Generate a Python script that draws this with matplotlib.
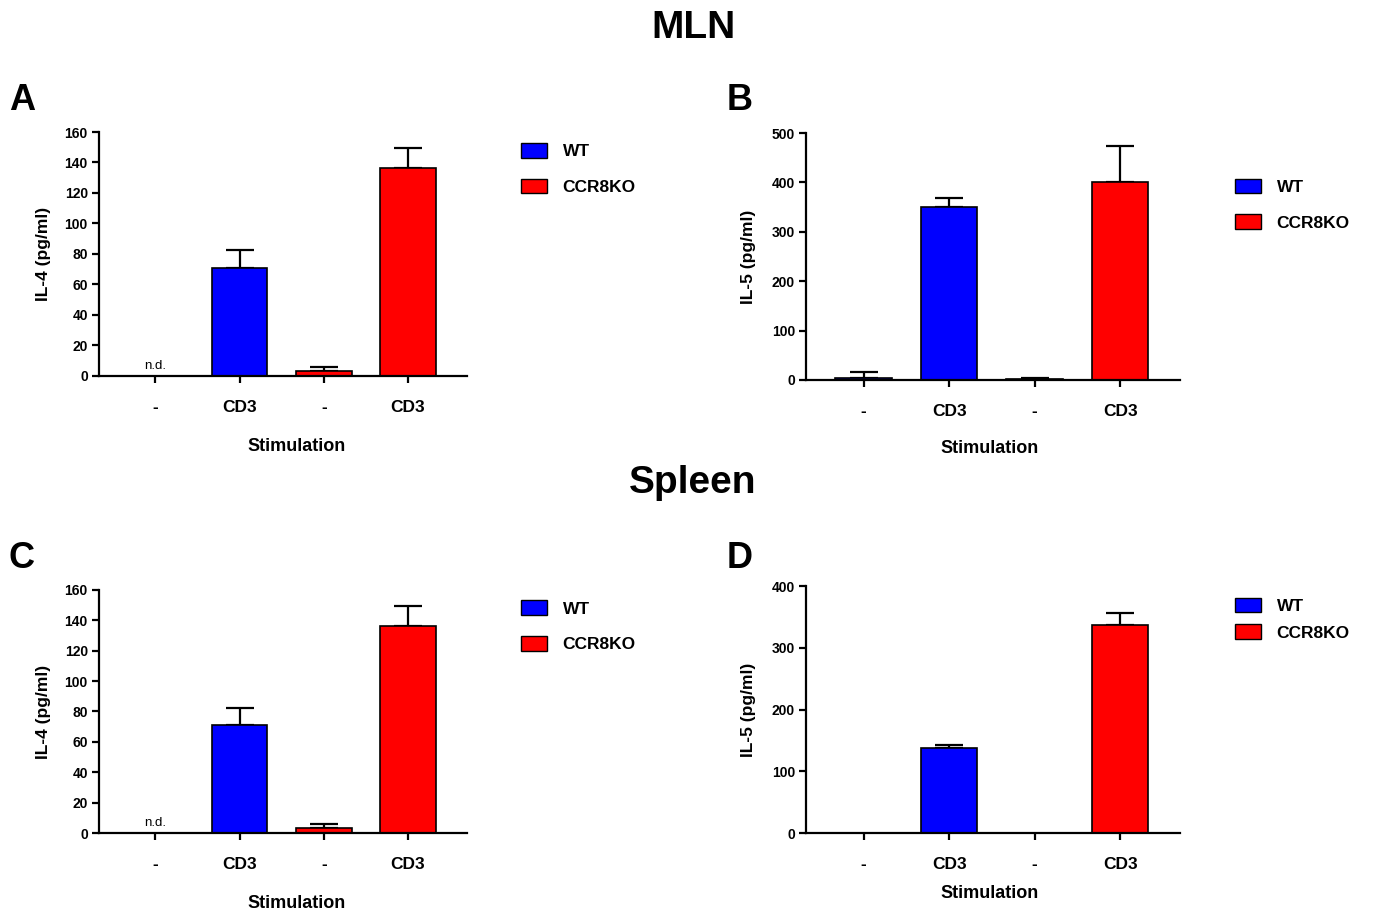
import matplotlib.pyplot as plt
import numpy as np
from matplotlib.patches import Patch

plt.rcParams['font.family'] = ['Liberation Sans', 'DejaVu Sans']
plt.rcParams['font.weight'] = 'bold'
plt.rcParams['axes.labelweight'] = 'bold'

# data ------------------------------------------------------------
groups = ['-', 'CD3', '-', 'CD3']
genotype = ['WT', 'WT', 'CCR8KO', 'CCR8KO']
colors = {'WT': '#0000ff', 'CCR8KO': '#ff0000'}

# MLN
mln_il4 = [np.nan, 70.8, 3.0, 136.3]
mln_il4_err = [np.nan, 11.7, 2.7, 13.1]
mln_il4_nd = [True, False, False, False]

mln_il5 = [4.7, 350, 2, 400]
mln_il5_err = [10.8, 19, 2, 74]
mln_il5_nd = [False, False, False, False]

# Spleen
spl_il4 = [np.nan, 70.8, 3.0, 136.3]
spl_il4_err = [np.nan, 11.7, 2.7, 13.1]
spl_il4_nd = [True, False, False, False]

spl_il5 = [np.nan, 137.8, np.nan, 336.7]
spl_il5_err = [np.nan, 5.5, np.nan, 19.5]
spl_il5_nd = [False, False, False, False]


def panel(rect, vals, errs, nd, ylabel, ymax, ystep, xlab_xy, ylab_x, leg_xy, leg_sp):
    ax = fig.add_axes(rect)
    x = np.arange(len(groups))
    cols = [colors[g] for g in genotype]
    ax.bar(x, vals, width=0.66, color=cols, edgecolor='black', linewidth=1.2, zorder=2)
    lo = np.zeros(len(errs))
    ax.errorbar(x, vals, yerr=[lo, errs], fmt='none', ecolor='black',
                elinewidth=1.6, capsize=10, capthick=1.6, zorder=1)
    for xi, flag in zip(x, nd):
        if flag:
            ax.text(xi, ymax * 0.015, 'n.d.', ha='center', va='bottom',
                    fontsize=9.5, fontweight='normal')
    ax.set_xlim(-0.67, 3.7)
    ax.set_ylim(0, ymax)
    ax.set_yticks(np.arange(0, ymax + 1, ystep))
    ax.set_xticks(x)
    ax.set_xticklabels(groups, fontsize=12.5)
    ax.tick_params(axis='y', labelsize=10, width=1.6, length=5, pad=3)
    ax.tick_params(axis='x', width=1.6, length=5, pad=12)
    for s in ['top', 'right']:
        ax.spines[s].set_visible(False)
    for s in ['left', 'bottom']:
        ax.spines[s].set_linewidth(1.6)
    ax.set_ylabel(ylabel, fontsize=12.5, fontweight='bold')
    ax.yaxis.set_label_coords(ylab_x, 0.5)
    ax.set_xlabel('Stimulation', fontsize=13, fontweight='bold')
    ax.xaxis.set_label_coords(*xlab_xy)
    handles = [Patch(facecolor=colors[g], edgecolor='black', linewidth=1.0, label=g)
               for g in ['WT', 'CCR8KO']]
    fig.legend(handles=handles, loc='upper left', bbox_to_anchor=leg_xy,
               bbox_transform=fig.transFigure, frameon=False, borderpad=0,
               borderaxespad=0, fontsize=12.5, handlelength=1.5, handleheight=0.92,
               handletextpad=0.9, labelspacing=leg_sp,
               prop={'weight': 'bold', 'size': 12.5})
    return ax


fig = plt.figure(figsize=(13.9, 9.11), dpi=100)

panel([0.0712, 0.5873, 0.2647, 0.2678], mln_il4, mln_il4_err, mln_il4_nd,
      'IL-4 (pg/ml)', 160, 20, (0.538, -0.254), -0.13, (0.3748, 0.843), 1.12)
panel([0.580, 0.5829, 0.269, 0.2711], mln_il5, mln_il5_err, mln_il5_nd,
      'IL-5 (pg/ml)', 500, 100, (0.49, -0.243), -0.134, (0.8885, 0.804), 1.12)
panel([0.0712, 0.0856, 0.2647, 0.2668], spl_il4, spl_il4_err, spl_il4_nd,
      'IL-4 (pg/ml)', 160, 20, (0.538, -0.255), -0.13, (0.3748, 0.341), 1.12)
panel([0.580, 0.0856, 0.269, 0.2711], spl_il5, spl_il5_err, spl_il5_nd,
      'IL-5 (pg/ml)', 400, 100, (0.49, -0.21), -0.134, (0.8885, 0.344), 0.6)

fig.text(0.4986, 1 - 28 / 911, 'MLN', ha='center', va='center', fontsize=28, fontweight='bold')
fig.text(0.4986, 1 - 483 / 911, 'Spleen', ha='center', va='center', fontsize=28, fontweight='bold')
for lab, px, py in [('A', 22, 100), ('B', 740, 100), ('C', 22, 558), ('D', 740, 558)]:
    fig.text(px / 1390, 1 - py / 911, lab, ha='center', va='center', fontsize=26, fontweight='bold')

fig.savefig('out.png', dpi=100)
